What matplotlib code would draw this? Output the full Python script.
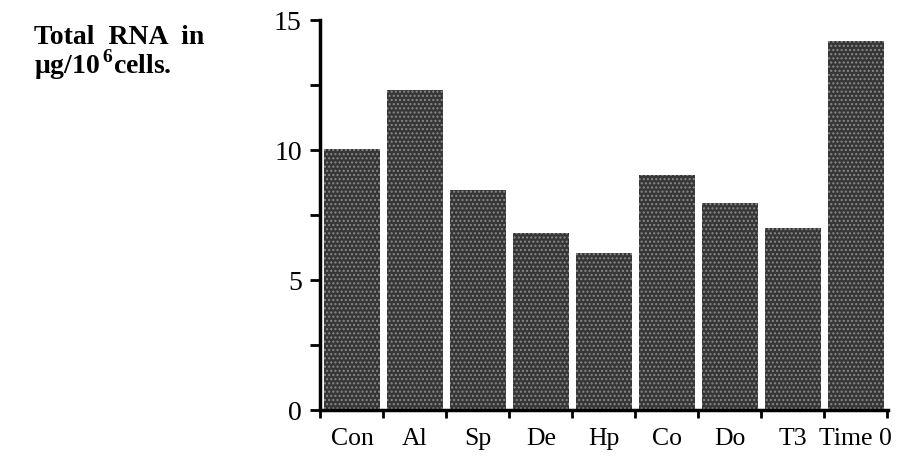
import matplotlib.pyplot as plt
import numpy as np

# total RNA per treatment
groups = ["Con", "Al", "Sp", "De", "Hp", "Co", "Do", "T3", "Time 0"]
rna = [10.05, 12.3, 8.45, 6.8, 6.05, 9.05, 7.95, 7.0, 14.2]

plt.rcParams['font.family'] = ['Liberation Serif', 'DejaVu Serif']
plt.rcParams['mathtext.fontset'] = 'custom'
plt.rcParams['mathtext.rm'] = 'Liberation Serif'
plt.rcParams['mathtext.bf'] = 'Liberation Serif:bold'

fig = plt.figure(figsize=(9.01, 4.66), dpi=100)
ax = fig.add_axes([0.355, 0.12, 0.631, 0.837])

x = np.arange(len(groups))
ax.bar(x, rna, width=0.89, color='#363636', edgecolor='#8a8a8a',
       hatch='....', linewidth=0)

ax.set_xlim(-0.51, 8.52)
ax.set_ylim(0, 15)

ax.spines['top'].set_visible(False)
ax.spines['right'].set_visible(False)
ax.spines['left'].set_linewidth(2.5)
ax.spines['bottom'].set_linewidth(2.5)

ax.set_yticks([0, 5, 10, 15])
ax.set_yticks([2.5, 7.5, 12.5], minor=True)
ax.tick_params(axis='y', which='both', direction='out', length=7, width=2,
               labelsize=20, pad=6)

# labels under bars, tick marks between bars
ax.set_xticks(x)
ax.set_xticklabels(groups)
ax.set_xticks(np.arange(-0.5, len(groups), 1.0), minor=True)
ax.tick_params(axis='x', which='major', length=0, labelsize=18.5, pad=13)
ax.tick_params(axis='x', which='minor', direction='out', length=6, width=2)

fig.text(0.038, 0.92, "Total  RNA  in", fontsize=20, fontweight='bold', va='center')
fig.text(0.038, 0.862, "\u03bcg/10$^{\\,\\mathbf{6}}$cells.", fontsize=20,
         fontweight='bold', va='center')

fig.savefig("out.png", dpi=100)
